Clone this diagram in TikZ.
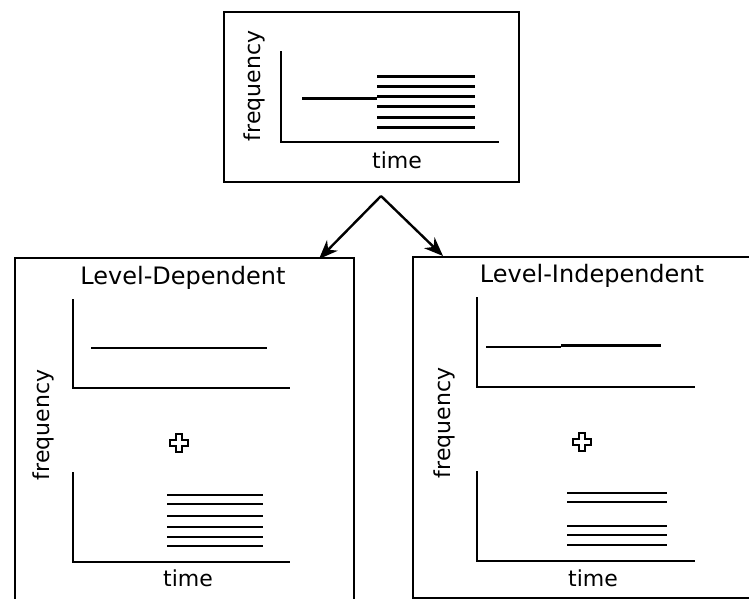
\documentclass[tikz,border=0pt]{standalone}
\usepackage{fontspec}
\setmainfont{DejaVu Sans}
\usetikzlibrary{arrows.meta}
\begin{document}
\begin{tikzpicture}[x=1pt,y=-1pt,
  frame/.style={draw, line width=2.3pt, inner sep=0pt},
  axis/.style={line width=2.4pt, line cap=rect},
  sig/.style={line width=3pt},
  thinsig/.style={line width=2.3pt},
  ttl/.style={font=\fontsize{24}{28}\selectfont, inner sep=0pt},
  lbl/.style={font=\fontsize{22}{26}\selectfont, inner sep=0pt},
  crossmark/.style={line width=1.1pt},
  arr/.style={line width=2.4pt, -{Stealth[length=19pt,width=15pt,inset=6pt]}}]
\useasboundingbox (0,0) rectangle (749,599);
\clip (0,0) rectangle (749,599);

% frames
\node[frame, minimum width=295pt, minimum height=170pt] (top) at (371.5,97) {};
\node[frame, minimum width=339pt, minimum height=360pt] (L) at (184.5,438) {};
\node[frame, minimum width=360pt, minimum height=341pt] (R) at (593,427.5) {};

% arrows
\coordinate (apex) at (381,196);
\coordinate (lt) at (319,259);
\coordinate (rt) at (443,256);
\draw[arr] (apex) -- (lt);
\draw[arr] (apex) -- (rt);

% top plot
\draw[axis] (281,52) -- (281,142) -- (498,142);
\draw[sig] (302,99) -- (377,99);
\foreach \y in {77,87,97,107,118,128} \draw[sig] (377,\y) -- (475,\y);
\node[lbl, rotate=90] (tf) at (254,86) {frequency};
\node[lbl] (tt) at (397,160) {time};

% left panel
\node[ttl] (lh) at (183,278) {Level-Dependent};
\draw[axis] (73,300) -- (73,388) -- (289,388);
\draw[thinsig] (91,348) -- (267,348);
\draw[axis] (73,473) -- (73,562) -- (289,562);
\foreach \y in {495,504,516,527,537,546} \draw[thinsig] (167,\y) -- (263,\y);
\node[lbl, rotate=90] (lf) at (43,425) {frequency};
\node[lbl] (lt2) at (188,578) {time};
\coordinate (lp) at (179,443);
\draw[crossmark] (lp) ++(-3,-9) -- ++(6,0) -- ++(0,6) -- ++(6,0) -- ++(0,6) -- ++(-6,0) -- ++(0,6) -- ++(-6,0) -- ++(0,-6) -- ++(-6,0) -- ++(0,-6) -- ++(6,0) -- cycle;

% right panel
\node[ttl] (rh) at (592,276) {Level-Independent};
\draw[axis] (477,298) -- (477,387) -- (694,387);
\draw[thinsig] (486,347) -- (561,347);
\draw[sig] (561,345.5) -- (661,345.5);
\draw[axis] (477,472) -- (477,561) -- (694,561);
\foreach \y in {493,502,526,535,545} \draw[thinsig] (567,\y) -- (667,\y);
\node[lbl, rotate=90] (rf) at (444,423) {frequency};
\node[lbl] (rt2) at (593,578) {time};
\coordinate (rp) at (582,442);
\draw[crossmark] (rp) ++(-3,-9) -- ++(6,0) -- ++(0,6) -- ++(6,0) -- ++(0,6) -- ++(-6,0) -- ++(0,6) -- ++(-6,0) -- ++(0,-6) -- ++(-6,0) -- ++(0,-6) -- ++(6,0) -- cycle;
\end{tikzpicture}
\end{document}
